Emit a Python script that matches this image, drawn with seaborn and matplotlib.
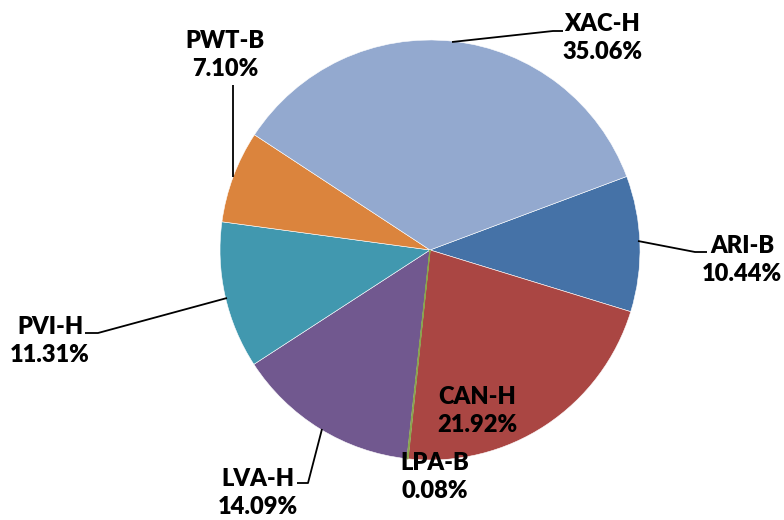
import matplotlib
matplotlib.use("Agg")
import matplotlib.pyplot as plt
import seaborn as sns

categories = ["ARI-B", "CAN-H", "LPA-B", "LVA-H", "PVI-H", "PWT-B", "XAC-H"]
values = [10.44, 21.92, 0.08, 14.09, 11.31, 7.10, 35.06]
pct_labels = ["10.44%", "21.92%", "0.08%", "14.09%", "11.31%", "7.10%", "35.06%"]
colors = ["#4572A7", "#AA4643", "#89A54E", "#71588F", "#4198AF", "#DB843D", "#93A9CF"]

sns.set_theme(style="white")
plt.rcParams['font.family'] = ['Lato', 'DejaVu Sans']

W, H = 784, 520
cx, cy, R = 430, 250, 210

fig = plt.figure(figsize=(W / 100, H / 100), dpi=100)
ax = fig.add_axes([0, 0, 1, 1])
ax.set_aspect("equal")
ax.axis("off")

palette = sns.color_palette(colors)
wedges, _ = ax.pie(values, colors=palette, startangle=20.5, counterclock=False,
                   radius=1.0, center=(0, 0),
                   wedgeprops=dict(edgecolor="white", linewidth=0.4))
# keep the tiny slice visible
wedges[2].set_edgecolor(colors[2])
wedges[2].set_linewidth(0.8)
wedges[2].set_zorder(5)
ax.set_xlim(-cx / R, (W - cx) / R)
ax.set_ylim(-(H - cy) / R, cy / R)


def p(x, y):
    return ((x - cx) / R, (cy - y) / R)


label_pos = {
    "ARI-B": (742, 260),
    "CAN-H": (477, 411),
    "LPA-B": (435, 477),
    "LVA-H": (258, 493),
    "PVI-H": (50, 341),
    "PWT-B": (225, 55),
    "XAC-H": (602, 38),
}
leaders = {
    "XAC-H": [(452, 42), (553, 31), (563, 31)],
    "ARI-B": [(638, 241), (695, 252), (707, 252)],
    "PWT-B": [(233, 177), (233, 85)],
    "PVI-H": [(227, 298), (98, 333), (85, 333)],
    "LVA-H": [(322, 429), (308, 483), (297, 483)],
}

for name, pct in zip(categories, pct_labels):
    x, y = p(*label_pos[name])
    ax.text(x, y, f"{name}\n{pct}", ha="center", va="center", fontsize=17,
            fontweight="heavy", color="black", linespacing=1.35, zorder=10)
    if name in leaders:
        pts = [p(*q) for q in leaders[name]]
        ax.plot([q[0] for q in pts], [q[1] for q in pts], color="black", lw=1.3,
                solid_capstyle="butt", zorder=9)

fig.savefig("out.png", dpi=100)
